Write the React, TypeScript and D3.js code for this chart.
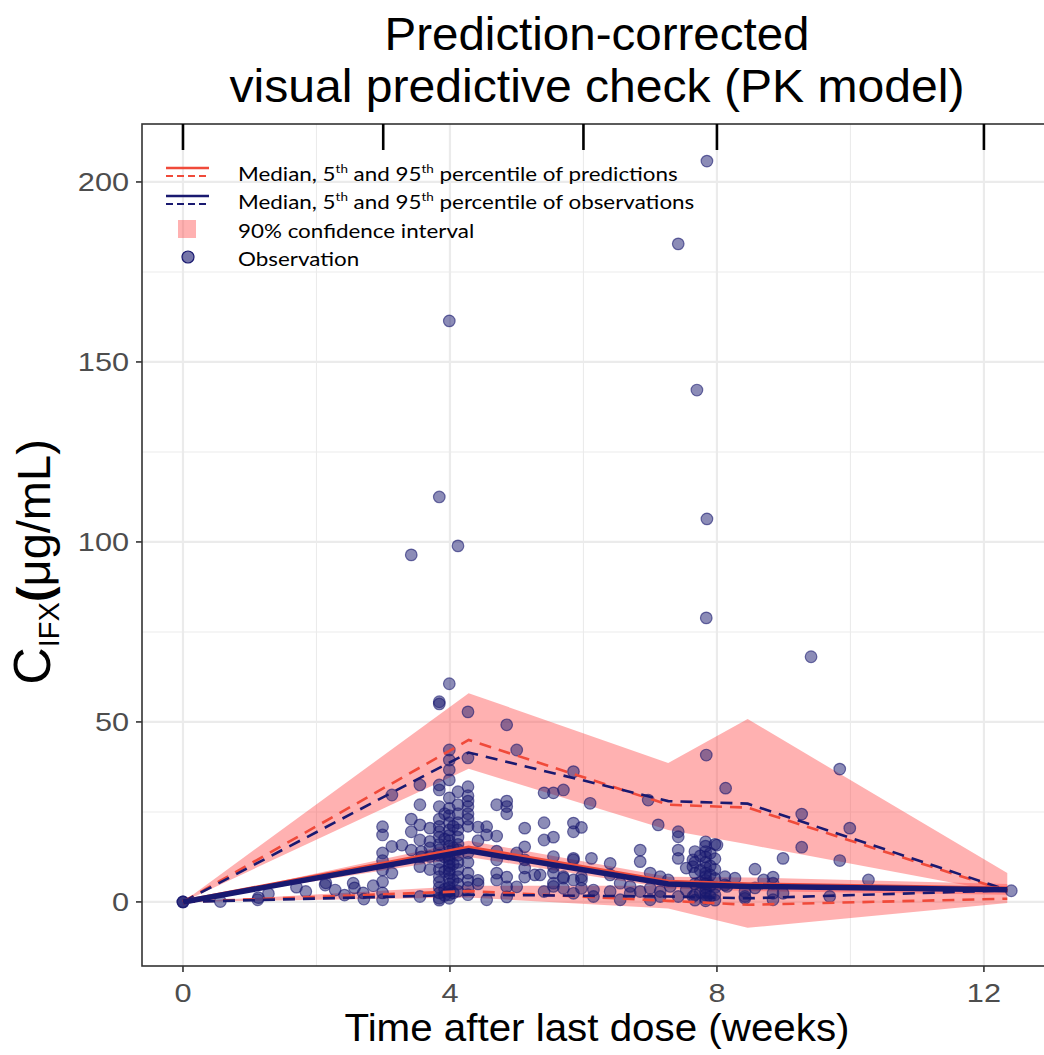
import React from "react";
import * as d3 from "d3";

// ---- data ----
const binTimes = [0, 4.28, 7.27, 8.46, 12.35];
const predMedian = [0, 15, 5.5, 4.8, 3.6];
const predP95 = [0, 45, 27, 26.2, 3];
const predP05 = [0, 3, 0.3, -0.8, 0.9];
const obsMedian = [0, 14.2, 5, 4.3, 3.4];
const obsP95 = [0, 41.5, 28, 27.3, 3.3];
const obsP05 = [0, 2, 1.5, 1, 3.2];
const ciUpperLo = [0, 37, 20, 16, 2.5];
const ciUpperHi = [0, 58, 38.6, 50.8, 8];
const ciMedLo = [0, 12.5, 3.8, 3, 2];
const ciMedHi = [0, 17, 7, 6.8, 5];
const ciLowLo = [0, 1.2, -1.8, -7.2, -0.3];
const ciLowHi = [0, 4.5, 4.5, 5, 3];

const xTicks = [0, 4, 8, 12];
const xMinor = [2, 6, 10];
const yTicks = [0, 50, 100, 150, 200];
const yMinor = [25, 75, 125, 175];
const topTicks = [0, 3, 6, 8, 12];

const observations: [number, number][] = [
  [0, 0], [0, 0], [0, 0],
  [0.56, 0.1], [1.12, 0.6], [1.13, 1.2], [1.28, 2.3], [1.7, 4.1], [1.84, 2.9], [2.13, 4.7], [2.14, 5.3],
  [2.28, 3.3], [2.42, 1.9], [2.55, 5.2], [2.57, 3.9], [2.7, 2.5], [2.71, 0.8], [2.85, 4.5],
  [2.99, 20.9], [2.99, 18.6], [2.99, 13.6], [2.99, 11.5], [2.99, 8.9], [2.99, 5.6], [2.99, 2.5], [2.99, 0.6],
  [3.13, 29.7], [3.13, 15.4], [3.13, 8], [3.28, 15.8],
  [3.42, 96.4], [3.42, 23], [3.42, 19.5], [3.42, 14.4],
  [3.55, 32.5], [3.55, 27], [3.55, 21.4], [3.55, 17.2], [3.57, 14], [3.57, 12.5], [3.55, 9.8], [3.55, 1.5],
  [3.7, 20.5], [3.7, 16.8], [3.7, 12.6], [3.7, 15], [3.7, 9],
  [3.84, 112.5], [3.84, 55.6], [3.84, 55.0], [3.84, 32.5], [3.84, 31.1], [3.84, 26.5], [3.84, 23], [3.84, 21],
  [3.84, 19.5], [3.84, 18], [3.84, 16], [3.84, 14.5], [3.84, 13], [3.84, 11], [3.84, 9], [3.84, 7], [3.84, 5.5],
  [3.84, 4], [3.84, 2.5], [3.84, 1], [3.84, 0.5],
  [3.92, 24.5], [3.92, 17.5], [3.92, 12.5], [3.92, 8.5], [3.92, 3.5], [3.92, 1.8],
  [3.99, 161.4], [3.99, 60.6], [3.99, 42.2], [3.99, 39.4], [3.99, 36.7], [3.99, 33.9], [3.99, 28.9], [3.99, 26],
  [3.99, 24], [3.99, 22], [3.99, 20], [3.99, 18.5], [3.99, 17], [3.99, 15.5], [3.99, 14], [3.99, 13], [3.99, 12],
  [3.99, 11], [3.99, 10], [3.99, 9], [3.99, 8], [3.99, 6.5], [3.99, 5], [3.99, 4], [3.99, 3], [3.99, 2], [3.99, 1],
  [4.05, 21], [4.05, 15], [4.05, 10.5], [4.05, 6], [4.05, 2.5],
  [4.12, 98.9], [4.12, 30.6], [4.12, 27], [4.12, 24.5], [4.12, 22], [4.12, 20], [4.12, 18], [4.12, 16],
  [4.12, 14.5], [4.12, 13], [4.12, 11], [4.12, 9], [4.12, 7], [4.12, 5], [4.12, 3],
  [4.27, 52.8], [4.27, 40], [4.27, 32], [4.27, 29.5], [4.27, 28], [4.27, 26.5], [4.27, 24.5], [4.27, 23],
  [4.27, 21], [4.27, 13.6], [4.27, 11], [4.27, 8], [4.27, 6], [4.27, 4], [4.27, 2],
  [4.42, 20.8], [4.42, 17], [4.42, 6], [4.42, 5],
  [4.55, 20.9], [4.55, 18.6], [4.55, 0.6],
  [4.7, 27], [4.7, 18.3], [4.7, 14.1], [4.7, 11.7], [4.7, 8], [4.7, 6.1],
  [4.85, 49.2], [4.85, 28], [4.85, 26.5], [4.85, 24.5], [4.85, 6.9], [4.85, 4.2], [4.85, 1.4],
  [5.0, 42.2], [5.0, 13.6], [5.0, 4.2],
  [5.12, 20.5], [5.12, 15.3], [5.12, 11.7], [5.12, 9.4], [5.12, 6.9],
  [5.27, 7.5], [5.35, 7.5],
  [5.41, 30.3], [5.41, 22], [5.41, 17.2], [5.41, 2.9],
  [5.55, 30.3], [5.55, 18], [5.55, 12.6], [5.55, 9.7], [5.55, 8], [5.55, 5.2], [5.55, 4.3],
  [5.7, 31.1], [5.7, 7], [5.7, 3.8], [5.7, 6.6],
  [5.85, 36.2], [5.85, 21.9], [5.85, 19.5], [5.85, 12.1], [5.85, 11.7], [5.85, 6.1], [5.85, 2.4],
  [5.97, 20.7], [5.97, 7], [5.97, 3.8], [5.97, 6.1],
  [6.1, 27.4], [6.12, 12.1], [6.15, 3.3], [6.15, 1.5],
  [6.4, 10.7], [6.4, 7.5], [6.4, 2.9], [6.55, 5.2], [6.55, 0.6], [6.7, 4.3], [6.7, 2.4],
  [6.85, 14.4], [6.85, 11.2], [6.85, 2.9], [6.97, 28.3],
  [7.0, 3.8], [7.0, 0.6], [7.0, 8], [7.12, 21.4], [7.15, 2.9], [7.15, 1.5], [7.15, 7], [7.27, 6.1], [7.3, 4.3],
  [7.42, 182.8], [7.42, 19.5], [7.42, 18.1], [7.42, 14.4], [7.42, 12.1], [7.42, 1.5],
  [7.54, 9.4], [7.54, 3.3], [7.64, 11.7], [7.64, 9.8], [7.64, 1.5],
  [7.67, 14], [7.67, 11], [7.67, 8], [7.67, 5], [7.67, 2], [7.67, 0.5],
  [7.7, 142.2],
  [7.75, 12.8], [7.75, 8.8], [7.75, 5.5], [7.75, 2.6],
  [7.85, 205.8], [7.85, 106.4], [7.84, 78.9], [7.84, 40.8],
  [7.83, 16.7], [7.83, 15.5], [7.83, 14], [7.83, 12.5], [7.83, 11], [7.83, 9.5], [7.83, 8], [7.83, 7],
  [7.83, 6], [7.83, 5], [7.83, 4], [7.83, 3], [7.83, 2], [7.83, 1], [7.83, 0.3],
  [7.9, 13.5], [7.9, 10], [7.9, 7.5], [7.9, 4.5], [7.9, 1.5],
  [7.97, 16], [7.97, 12], [7.97, 9], [7.97, 6.5], [7.97, 4], [7.97, 2], [7.97, 0.5],
  [8.0, 15.8], [8.13, 31.6], [8.12, 7], [8.12, 4.7], [8.15, 4.3], [8.27, 6.6],
  [8.42, 2.9], [8.42, 1.5], [8.42, 1], [8.57, 9.1], [8.57, 3.9], [8.7, 6.1],
  [8.84, 6.9], [8.84, 5.2], [8.84, 2.4], [8.84, 0.6], [8.99, 12.1], [8.99, 2.4],
  [9.27, 24.4], [9.27, 15.2], [9.41, 68.1], [9.69, 1.5], [9.84, 36.9], [9.84, 11.5], [9.99, 20.5],
  [10.27, 6.1], [12.41, 3.1],
];

// ---- layout ----
const W = 1044;
const H = 1055;
const panel = { left: 142, right: 1052, top: 124, bottom: 966 };
const NAVY = "#191970";
const RED = "#f04a3a";

export default function App() {
  const x = d3.scaleLinear().domain([-0.614, 13.02]).range([panel.left, panel.right]);
  const y = d3.scaleLinear().domain([-17.8, 216.1]).range([panel.bottom, panel.top]);

  const line = d3
    .line<number>()
    .x((_, i) => x(binTimes[i]))
    .y((d) => y(d));

  const area = (lo: number[], hi: number[]) =>
    d3
      .area<number>()
      .x((_, i) => x(binTimes[i]))
      .y0((_, i) => y(lo[i]))
      .y1((_, i) => y(hi[i]))(binTimes);

  const sans = "'Liberation Sans', Arial, sans-serif";
  const legendFont = "Lato, 'Open Sans', sans-serif";

  const legendRows = [
    { kind: "pred", y: 181 },
    { kind: "obs", y: 209 },
    { kind: "ci", y: 238 },
    { kind: "pt", y: 266 },
  ];

  return (
    <svg width={W} height={H} style={{ position: "absolute", left: 0, top: 0, background: "#fff" }}>
      <rect x={0} y={0} width={W} height={H} fill="#fff" />
      <defs>
        <clipPath id="pclip">
          <rect x={panel.left} y={panel.top} width={panel.right - panel.left} height={panel.bottom - panel.top} />
        </clipPath>
      </defs>
      {/* grid */}
      <g>
        {yMinor.map((v) => (
          <line key={"ym" + v} x1={panel.left} x2={panel.right} y1={y(v)} y2={y(v)} stroke="#ebebeb" strokeWidth={1.1} />
        ))}
        {xMinor.map((v) => (
          <line key={"xm" + v} y1={panel.top} y2={panel.bottom} x1={x(v)} x2={x(v)} stroke="#ebebeb" strokeWidth={1.1} />
        ))}
        {yTicks.map((v) => (
          <line key={"yM" + v} x1={panel.left} x2={panel.right} y1={y(v)} y2={y(v)} stroke="#ebebeb" strokeWidth={2.2} />
        ))}
        {xTicks.map((v) => (
          <line key={"xM" + v} y1={panel.top} y2={panel.bottom} x1={x(v)} x2={x(v)} stroke="#ebebeb" strokeWidth={2.2} />
        ))}
      </g>
      <g clipPath="url(#pclip)">
        {/* confidence bands */}
        <path d={area(ciUpperLo, ciUpperHi) || ""} fill="#f44" fillOpacity={0.42} />
        <path d={area(ciMedLo, ciMedHi) || ""} fill="#f44" fillOpacity={0.42} />
        <path d={area(ciLowLo, ciLowHi) || ""} fill="#f44" fillOpacity={0.42} />
        {/* observations */}
        {observations.map(([t, c], i) => (
          <circle
            key={i}
            cx={x(t)}
            cy={y(c)}
            r={5.8}
            fill={NAVY}
            fillOpacity={0.5}
            stroke={NAVY}
            strokeOpacity={0.6}
            strokeWidth={1.2}
          />
        ))}
        {/* lines */}
        <path d={line(predP95) || ""} fill="none" stroke={RED} strokeWidth={2.6} strokeDasharray="12,8" />
        <path d={line(predP05) || ""} fill="none" stroke={RED} strokeWidth={2.6} strokeDasharray="12,8" />
        <path d={line(obsP95) || ""} fill="none" stroke={NAVY} strokeWidth={2.6} strokeDasharray="12,8" />
        <path d={line(obsP05) || ""} fill="none" stroke={NAVY} strokeWidth={2.6} strokeDasharray="12,8" />
        <path d={line(predMedian) || ""} fill="none" stroke={RED} strokeWidth={5} />
        <path d={line(obsMedian) || ""} fill="none" stroke={NAVY} strokeWidth={5.5} />
      </g>
      {/* panel border */}
      <rect
        x={panel.left}
        y={panel.top}
        width={panel.right - panel.left}
        height={panel.bottom - panel.top}
        fill="none"
        stroke="#333"
        strokeWidth={1.6}
      />
      {/* top ticks */}
      {topTicks.map((v) => (
        <line key={"tt" + v} x1={x(v)} x2={x(v)} y1={panel.top} y2={panel.top + 26} stroke="#000" strokeWidth={2.6} />
      ))}
      {/* x axis */}
      {xTicks.map((v) => (
        <g key={"xt" + v}>
          <line x1={x(v)} x2={x(v)} y1={panel.bottom} y2={panel.bottom + 6} stroke="#333" strokeWidth={1.6} />
          <g transform={`translate(${x(v)},1002) scale(1.18,1)`}>
            <text x={0} y={0} textAnchor="middle" fontFamily={sans} fontSize={26} fill="#4d4d4d">
              {v}
            </text>
          </g>
        </g>
      ))}
      {/* y axis */}
      {yTicks.map((v) => (
        <g key={"yt" + v}>
          <line x1={panel.left - 6} x2={panel.left} y1={y(v)} y2={y(v)} stroke="#333" strokeWidth={1.6} />
          <g transform={`translate(129,${y(v) + 9.3}) scale(1.18,1)`}>
            <text x={0} y={0} textAnchor="end" fontFamily={sans} fontSize={26} fill="#4d4d4d">
              {v}
            </text>
          </g>
        </g>
      ))}
      {/* axis titles */}
      <text
        x={597}
        y={1041}
        textAnchor="middle"
        fontFamily={sans}
        fontSize={38}
        fill="#000"
        textLength={505}
        lengthAdjust="spacingAndGlyphs"
      >
        Time after last dose (weeks)
      </text>
      <text transform="translate(50,562) rotate(-90)" textAnchor="middle" fontFamily={sans} fill="#000">
        <tspan fontSize={52}>C</tspan>
        <tspan fontSize={29} dy={9}>IFX</tspan>
        <tspan fontSize={47} dy={-9} fontWeight="bold">(</tspan>
        <tspan fontSize={47}>μg/mL)</tspan>
      </text>
      {/* title */}
      <text
        x={597}
        y={50}
        textAnchor="middle"
        fontFamily={sans}
        fontSize={46}
        fill="#000"
        textLength={425}
        lengthAdjust="spacingAndGlyphs"
      >
        Prediction-corrected
      </text>
      <text
        x={597}
        y={102}
        textAnchor="middle"
        fontFamily={sans}
        fontSize={46}
        fill="#000"
        textLength={735}
        lengthAdjust="spacingAndGlyphs"
      >
        visual predictive check (PK model)
      </text>
      {/* legend */}
      <g fontFamily={legendFont} fontSize={20} fill="#000">
        {legendRows.map((r) => {
          const yc = r.y - 9;
          let key: React.ReactNode = null;
          if (r.kind === "pred" || r.kind === "obs") {
            const col = r.kind === "pred" ? RED : NAVY;
            key = (
              <g>
                <line x1={166} x2={209} y1={yc - 4} y2={yc - 4} stroke={col} strokeWidth={2.6} />
                <line x1={166} x2={209} y1={yc + 4} y2={yc + 4} stroke={col} strokeWidth={1.8} strokeDasharray="7,4" />
              </g>
            );
          } else if (r.kind === "ci") {
            key = <rect x={178} y={yc - 9} width={18} height={18} fill="#f44" fillOpacity={0.42} />;
          } else {
            key = <circle cx={188} cy={yc} r={6} fill={NAVY} fillOpacity={0.6} stroke={NAVY} strokeWidth={1.2} />;
          }
          let label: React.ReactNode;
          if (r.kind === "pred" || r.kind === "obs") {
            label = (
              <text x={0} y={0}>
                Median, 5<tspan fontSize={12} dy={-8}>th</tspan>
                <tspan dy={8}> and 95</tspan>
                <tspan fontSize={12} dy={-8}>th</tspan>
                <tspan dy={8}>{" percentile of " + (r.kind === "pred" ? "predictions" : "observations")}</tspan>
              </text>
            );
          } else if (r.kind === "ci") {
            label = (
              <text x={0} y={0}>
                90% confidence interval
              </text>
            );
          } else {
            label = (
              <text x={0} y={0}>
                Observation
              </text>
            );
          }
          return (
            <g key={r.kind}>
              {key}
              <g transform={`translate(238,${r.y}) scale(1.12,1)`}>{label}</g>
            </g>
          );
        })}
      </g>
    </svg>
  );
}
